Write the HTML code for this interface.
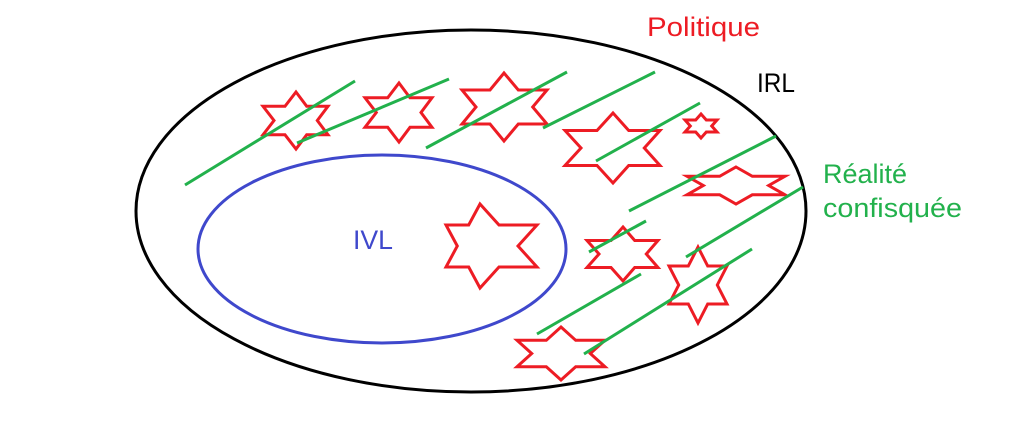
<!DOCTYPE html>
<html><head><meta charset="utf-8"><style>
html,body{margin:0;padding:0;background:#fff;}
svg{display:block}
text{font-family:"Liberation Sans",sans-serif;}
</style></head><body>
<svg id="s" width="1024" height="434" viewBox="0 0 1024 434" xmlns="http://www.w3.org/2000/svg">
<rect width="1024" height="434" fill="#fff"/>
<ellipse cx="471" cy="211" rx="335" ry="181" fill="none" stroke="#000" stroke-width="3"/>
<ellipse cx="382" cy="249" rx="184" ry="94" fill="none" stroke="#3f48cc" stroke-width="3"/>
<g id="stars" fill="none" stroke="#ed1c24" stroke-width="3" stroke-linejoin="miter"></g>
<g stroke="#22b14c" stroke-width="3" stroke-linecap="butt">
<line x1="185" y1="185" x2="355" y2="81"/>
<line x1="297" y1="143" x2="449" y2="79"/>
<line x1="426" y1="148" x2="567" y2="72"/>
<line x1="543" y1="128" x2="655" y2="72"/>
<line x1="596" y1="161" x2="700" y2="103"/>
<line x1="629" y1="211" x2="776" y2="136"/>
<line x1="686" y1="257" x2="803" y2="187"/>
<line x1="589" y1="252" x2="646" y2="221"/>
<line x1="537" y1="334" x2="641" y2="274"/>
<line x1="584" y1="354" x2="752" y2="249"/>
</g>
<text x="647" y="36" font-size="27" fill="#ed1c24" textLength="113" lengthAdjust="spacingAndGlyphs">Politique</text>
<text x="757" y="92" font-size="27" fill="#000" textLength="38" lengthAdjust="spacingAndGlyphs">IRL</text>
<text x="823" y="183" font-size="27" fill="#22b14c" textLength="84" lengthAdjust="spacingAndGlyphs">Réalité</text>
<text x="823" y="217" font-size="27" fill="#22b14c" textLength="139" lengthAdjust="spacingAndGlyphs">confisquée</text>
<text x="353" y="249" font-size="27" fill="#3f48cc" textLength="40" lengthAdjust="spacingAndGlyphs">IVL</text>
</svg>
<script>
var S=[[296,92,149,263,328],[399,83,142,365,432],[504,73,141,462,547],[613,113,183,565,660],[701,114,138,685,717],[736,167,204,687,785],[623,227,281,587,658],[698,247,323,669,727],[561,327,380,517,605],[480,204,288,446,537]];
var g=document.getElementById('stars'),h='';
S.forEach(function(a){var cx=a[0],t=a[1],b=a[2],l=a[3],r=a[4];
var y1=t+(b-t)/4,y2=t+3*(b-t)/4,m=(t+b)/2,dr=r-cx,dl=cx-l;
var p=[[cx,t],[cx+dr/3,y1],[r,y1],[cx+2*dr/3,m],[r,y2],[cx+dr/3,y2],[cx,b],[cx-dl/3,y2],[l,y2],[cx-2*dl/3,m],[l,y1],[cx-dl/3,y1]];
h+='<polygon points="'+p.map(function(q){return q[0].toFixed(1)+','+q[1].toFixed(1)}).join(' ')+'"/>';});
g.innerHTML=h;
</script>
</body></html>
